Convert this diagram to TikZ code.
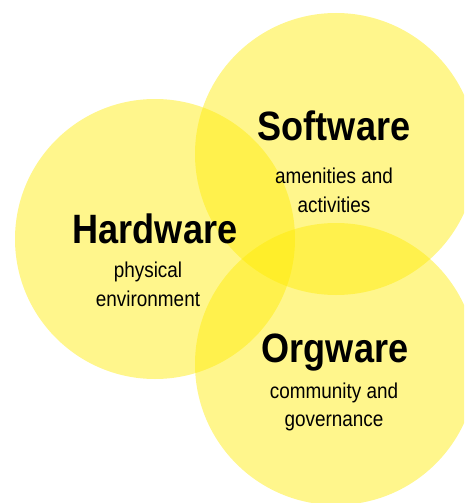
\documentclass[tikz,border=0pt]{standalone}
\usepackage{fontspec}
\setmainfont{Liberation Sans}[FakeStretch=0.88]
\begin{document}
\begin{tikzpicture}[x=1pt,y=-1pt,
  blob/.style={fill={rgb,255:red,255;green,235;blue,0},fill opacity=0.45},
  title/.style={anchor=base,inner sep=0pt,font=\fontsize{41}{45}\selectfont\bfseries},
  sub/.style={anchor=base,inner sep=0pt,font=\fontsize{21.5}{26}\selectfont}]
\useasboundingbox (0,0) rectangle (464,503);
\clip (0,0) rectangle (464,503);
\fill[blob] (336,154) circle[radius=141];
\fill[blob] (155,239) circle[radius=140];
\fill[blob] (336,364) circle[radius=141];
\node[title] (sw) at (334,140) {Software};
\node[sub] (sw1) at (334,183) {amenities and};
\node[sub] (sw2) at (334,212) {activities};
\node[title] (hw) at (155,243) {Hardware};
\node[sub] (hw1) at (148,277) {physical};
\node[sub] (hw2) at (148,306) {environment};
\node[title] (ow) at (335,362) {Orgware};
\node[sub] (ow1) at (334,398) {community and};
\node[sub] (ow2) at (334,426) {governance};
\end{tikzpicture}
\end{document}
